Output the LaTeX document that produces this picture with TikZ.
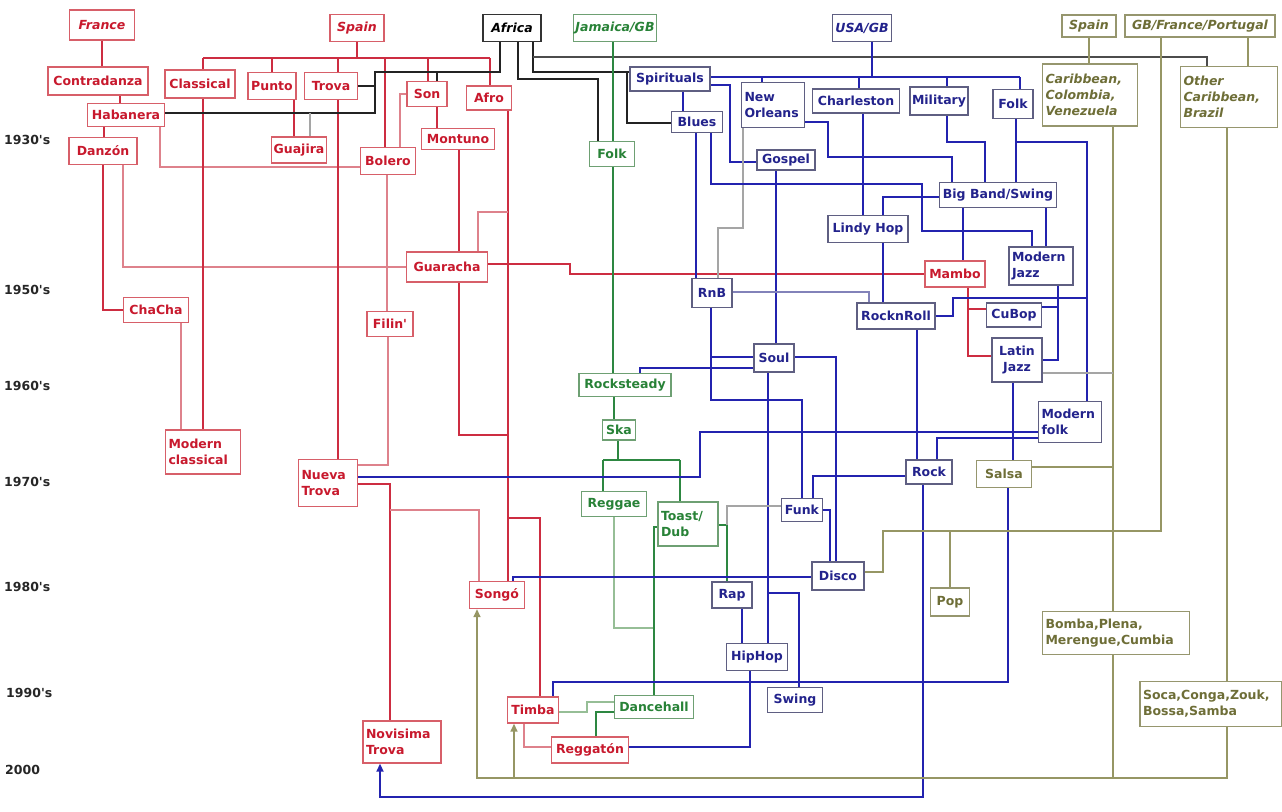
\documentclass[tikz,border=0pt]{standalone}
\usepackage{fontspec}
\setmainfont{DejaVu Sans}[Ligatures=TeXOff]
\usetikzlibrary{arrows.meta,backgrounds}
\definecolor{rtext}{RGB}{200,25,45}
\definecolor{rborder}{RGB}{215,95,105}
\definecolor{rline}{RGB}{205,45,65}
\definecolor{rthin}{RGB}{222,130,140}
\definecolor{btext}{RGB}{35,35,140}
\definecolor{bborder}{RGB}{95,95,130}
\definecolor{bline}{RGB}{35,35,175}
\definecolor{bthin}{RGB}{130,130,185}
\definecolor{gtext}{RGB}{40,130,55}
\definecolor{gborder}{RGB}{110,160,115}
\definecolor{gline}{RGB}{45,135,65}
\definecolor{gthin}{RGB}{150,190,150}
\definecolor{otext}{RGB}{110,110,55}
\definecolor{oborder}{RGB}{150,150,110}
\definecolor{oline}{RGB}{150,150,100}
\definecolor{kline}{RGB}{35,35,35}
\definecolor{gyline}{RGB}{165,165,165}
\begin{document}
\begin{tikzpicture}[x=1pt,y=-1pt,
  box/.style={draw, fill=white, line width=1.4pt, inner sep=2pt, align=center,
    font=\bfseries\fontsize{12.5}{16}\selectfont},
  hdr/.style={font=\bfseries\itshape\fontsize{12.5}{16}\selectfont},
  lft/.style={align=left, inner sep=3pt},
  rbox/.style={box, draw=rborder, text=rtext},
  bbox/.style={box, draw=bborder, text=btext},
  gbox/.style={box, draw=gborder, text=gtext},
  obox/.style={box, draw=oborder, text=otext},
  kbox/.style={box, draw=black!80, text=black},
  rt/.style={draw=rline, line width=2.4pt},
  rn/.style={draw=rthin, line width=1.5pt},
  kt/.style={draw=kline, line width=2.1pt},
  kn/.style={draw=black!70, line width=1.7pt},
  bt/.style={draw=bline, line width=2.1pt},
  bn/.style={draw=bthin, line width=1.4pt},
  gt/.style={draw=gline, line width=2pt},
  gn/.style={draw=gthin, line width=1.5pt},
  ot/.style={draw=oline, line width=1.6pt},
  gy/.style={draw=gyline, line width=1.4pt},
  dec/.style={anchor=west, inner sep=0pt, text=black!85, font=\bfseries\fontsize{12.5}{14}\selectfont},
  tip/.style={-{Triangle[length=8pt,width=7pt]}}
]
\path[use as bounding box] (0,0) rectangle (1282,811);

% decade labels
\node[dec] (d30) at (4,140) {1930's};
\node[dec] (d50) at (4,290) {1950's};
\node[dec] (d60) at (4,386) {1960's};
\node[dec] (d70) at (4,482) {1970's};
\node[dec] (d80) at (4,587) {1980's};
\node[dec] (d90) at (6,693) {1990's};
\node[dec] (d00) at (5,770) {2000};

% red nodes
\node[rbox,hdr,minimum width=65,minimum height=30] (france) at (102,25) {France};
\node[rbox,hdr,minimum width=54,minimum height=27] (spainR) at (357,28) {Spain};
\node[rbox,minimum width=100,minimum height=28] (contra) at (98,81) {Contradanza};
\node[rbox,minimum width=70,minimum height=28] (classical) at (200,84) {Classical};
\node[rbox,minimum width=48,minimum height=27] (punto) at (272,86) {Punto};
\node[rbox,minimum width=53,minimum height=27] (trova) at (331,86) {Trova};
\node[rbox,minimum width=40,minimum height=25] (son) at (427,94) {Son};
\node[rbox,minimum width=45,minimum height=24] (afro) at (489,98) {Afro};
\node[rbox,minimum width=77,minimum height=23] (habanera) at (126,115) {Habanera};
\node[rbox,minimum width=68,minimum height=27] (danzon) at (103,151) {Danzón};
\node[rbox,minimum width=54,minimum height=26] (guajira) at (299,150) {Guajira};
\node[rbox,minimum width=73,minimum height=21] (montuno) at (458,139) {Montuno};
\node[rbox,minimum width=55,minimum height=27] (bolero) at (388,161) {Bolero};
\node[rbox,minimum width=81,minimum height=30] (guaracha) at (447,267) {Guaracha};
\node[rbox,minimum width=60,minimum height=26] (mambo) at (955,274) {Mambo};
\node[rbox,minimum width=65,minimum height=25] (chacha) at (156,310) {ChaCha};
\node[rbox,minimum width=46,minimum height=25] (filin) at (390,324) {Filin'};
\node[rbox,lft,text width=69,minimum height=44] (modclass) at (203,452) {Modern\\classical};
\node[rbox,lft,text width=53,minimum height=47] (nueva) at (328,483) {Nueva\\Trova};
\node[rbox,minimum width=55,minimum height=27] (songo) at (497,595) {Songó};
\node[rbox,minimum width=51,minimum height=26] (timba) at (533,710) {Timba};
\node[rbox,minimum width=77,minimum height=26] (reggaeton) at (590,750) {Reggatón};
\node[rbox,lft,text width=72,minimum height=42] (novisima) at (402,742) {Novisima\\Trova};

% black
\node[kbox,hdr,minimum width=58,minimum height=27] (africa) at (512,28) {Africa};

% green nodes
\node[gbox,hdr,minimum width=68,minimum height=27] (jamaica) at (615,28) {Jamaica/GB};
\node[gbox,minimum width=45,minimum height=25] (folkG) at (612,154) {Folk};
\node[gbox,minimum width=92,minimum height=23] (rocksteady) at (625,385) {Rocksteady};
\node[gbox,minimum width=33,minimum height=20] (ska) at (619,430) {Ska};
\node[gbox,minimum width=65,minimum height=25] (reggae) at (614,504) {Reggae};
\node[gbox,lft,text width=54,minimum height=44] (toast) at (688,524) {Toast/\\Dub};
\node[gbox,minimum width=79,minimum height=23] (dancehall) at (654,707) {Dancehall};

% blue nodes
\node[bbox,hdr,minimum width=59,minimum height=27] (usa) at (862,28) {USA/GB};
\node[bbox,minimum width=80,minimum height=24] (spirituals) at (670,79) {Spirituals};
\node[bbox,minimum width=51,minimum height=21] (blues) at (697,122) {Blues};
\node[bbox,lft,text width=57,minimum height=45] (neworleans) at (773,105) {New\\Orleans};
\node[bbox,minimum width=87,minimum height=24] (charleston) at (856,101) {Charleston};
\node[bbox,minimum width=58,minimum height=28] (military) at (939,101) {Military};
\node[bbox,minimum width=40,minimum height=29] (folkB) at (1013,104) {Folk};
\node[bbox,minimum width=58,minimum height=20] (gospel) at (786,160) {Gospel};
\node[bbox,minimum width=80,minimum height=27] (lindy) at (868,229) {Lindy Hop};
\node[bbox,minimum width=117,minimum height=25,inner sep=1pt] (bigband) at (998,195) {Big Band/Swing};
\node[bbox,lft,text width=58,minimum height=38] (modjazz) at (1041,266) {Modern\\Jazz};
\node[bbox,minimum width=40,minimum height=29] (rnb) at (712,293) {RnB};
\node[bbox,minimum width=78,minimum height=26] (rocknroll) at (896,316) {RocknRoll};
\node[bbox,minimum width=55,minimum height=24] (cubop) at (1014,315) {CuBop};
\node[bbox,text width=46,minimum height=44] (latinjazz) at (1017,360) {Latin\\Jazz};
\node[bbox,minimum width=40,minimum height=28] (soul) at (774,358) {Soul};
\node[bbox,lft,text width=57,minimum height=41] (modfolk) at (1070,422) {Modern\\folk};
\node[bbox,minimum width=46,minimum height=24] (rock) at (929,472) {Rock};
\node[bbox,minimum width=41,minimum height=23] (funk) at (802,510) {Funk};
\node[bbox,minimum width=52,minimum height=28] (disco) at (838,576) {Disco};
\node[bbox,minimum width=40,minimum height=26] (rap) at (732,595) {Rap};
\node[bbox,minimum width=61,minimum height=27] (hiphop) at (757,657) {HipHop};
\node[bbox,minimum width=55,minimum height=25] (swing) at (795,700) {Swing};

% olive nodes
\node[obox,hdr,minimum width=54,minimum height=22] (spainO) at (1089,26) {Spain};
\node[obox,hdr,minimum width=150,minimum height=22] (gbfp) at (1200,26) {GB/France/Portugal};
\node[obox,hdr,lft,text width=89,minimum height=62] (carib) at (1090,95) {Caribbean,\\Colombia,\\Venezuela};
\node[obox,hdr,lft,text width=91,minimum height=61] (othercarib) at (1229,97) {Other\\Caribbean,\\Brazil};
\node[obox,minimum width=55,minimum height=27] (salsa) at (1004,474) {Salsa};
\node[obox,minimum width=39,minimum height=28] (pop) at (950,602) {Pop};
\node[obox,lft,text width=141,minimum height=43] (bomba) at (1116,633) {Bomba,Plena,\\Merengue,Cumbia};
\node[obox,lft,text width=136,minimum height=45] (soca) at (1211,704) {Soca,Conga,Zouk,\\Bossa,Samba};

\begin{scope}[on background layer]
\fill[white] (0,0) rectangle (1282,811);
% ---- red
\draw[rt] (france.south) -- (france.south |- contra.north);
\draw[rt] (contra.south -| 120,0) -- (habanera.north -| 120,0);
\draw[rt] (habanera.south -| 104,0) -- (danzon.north -| 104,0);
\draw[rt] (danzon.south -| 103,0) |- (chacha.west);
\draw[rn] (danzon.south -| 123,0) |- (guaracha.west);
\draw[rn] (habanera.south -| 160,0) -- (160,167) -- (bolero.west |- 0,167);
\draw[rt] (spainR.south) -- (357,58);
\draw[rt] (203,58) -- (490,58);
\draw[rt] (203,58) -- (classical.north -| 203,0);
\draw[rt] (272,58) -- (punto.north -| 272,0);
\draw[rt] (338,58) -- (trova.north -| 338,0);
\draw[rt] (385,58) -- (bolero.north -| 385,0);
\draw[rt] (428,58) -- (son.north -| 428,0);
\draw[rt] (490,58) -- (afro.north -| 490,0);
\draw[rt] (classical.south -| 203,0) -- (modclass.north -| 203,0);
\draw[rn] (chacha.south -| 181,0) -- (modclass.north -| 181,0);
\draw[rt] (punto.south -| 294,0) -- (guajira.north -| 294,0);
\draw[rt] (trova.south -| 338,0) -- (nueva.north -| 338,0);
\draw[rn] (bolero.south -| 387,0) -- (filin.north -| 387,0);
\draw[rn] (filin.south -| 388,0) |- (nueva.east |- 0,465);
\draw[rt] (son.south -| 437,0) -- (montuno.north -| 437,0);
\draw[rn] (son.west) -| (bolero.north -| 400,0);
\draw[rt] (montuno.south -| 459,0) -- (guaracha.north -| 459,0);
\draw[rt] (guaracha.south -| 459,0) -- (459,435) -- (508,435);
\draw[rt] (afro.south -| 508,0) -- (songo.north -| 508,0);
\draw[rn] (508,212) -- (478,212) -- (guaracha.north -| 478,0);
\draw[rt] (508,518) -- (540,518) -- (timba.north -| 540,0);
\draw[rt] (guaracha.east |- 0,264) -- (570,264) -- (570,274) -- (mambo.west);
\draw[rt] (mambo.south -| 968,0) |- (latinjazz.west |- 0,356);
\draw[rt] (968,309) -- (cubop.west |- 0,309);
\draw[rt] (nueva.east |- 0,484) -- (390,484) -- (novisima.north -| 390,0);
\draw[rn] (390,510) -- (479,510) -- (songo.north -| 479,0);
\draw[rn] (timba.south -| 524,0) |- (reggaeton.west |- 0,747);
% ---- black
\draw[kt] (africa.south -| 500,0) -- (500,72) -- (375,72) -- (375,113) -- (habanera.east |- 0,113);
\draw[kt] (437,72) -- (son.north -| 437,0);
\draw[kt] (trova.east) -- (375,86);
\draw[gy] (310,113) -- (guajira.north -| 310,0);
\draw[kt] (africa.south -| 518,0) -- (518,79) -- (598,79) -- (folkG.north -| 598,0);
\draw[kt] (africa.south -| 533,0) -- (533,72) -- (spirituals.west |- 0,72);
\draw[kt] (627,72) -- (627,123) -- (blues.west |- 0,123);
\draw[kn] (533,57) -- (1207,57) -- (othercarib.north -| 1207,0);
% ---- green
\draw[gt] (jamaica.south -| 613,0) -- (folkG.north -| 613,0);
\draw[gt] (folkG.south -| 613,0) -- (rocksteady.north -| 613,0);
\draw[gt] (rocksteady.south -| 614,0) -- (ska.north -| 614,0);
\draw[gt] (ska.south -| 618,0) -- (618,460);
\draw[gt] (603,460) -- (680,460);
\draw[gt] (603,460) -- (reggae.north -| 603,0);
\draw[gt] (680,460) -- (toast.north -| 680,0);
\draw[gn] (reggae.south -| 614,0) -- (614,628) -- (654,628);
\draw[gt] (toast.west |- 0,527) -- (654,527) -- (dancehall.north -| 654,0);
\draw[gt] (toast.east |- 0,525) -- (727,525) -- (rap.north -| 727,0);
\draw[gn] (dancehall.west |- 0,702) -- (587,702) -- (587,712) -- (timba.east |- 0,712);
\draw[gt] (dancehall.west |- 0,712) -- (596,712) -- (reggaeton.north -| 596,0);
% ---- blue
\draw[bt] (usa.south -| 872,0) -- (872,77);
\draw[bt] (spirituals.east |- 0,77) -- (1020,77);
\draw[bt] (762,77) -- (neworleans.north -| 762,0);
\draw[bt] (859,77) -- (charleston.north -| 859,0);
\draw[bt] (947,77) -- (military.north -| 947,0);
\draw[bt] (1020,77) -- (folkB.north -| 1020,0);
\draw[bt] (spirituals.south -| 683,0) -- (blues.north -| 683,0);
\draw[bt] (spirituals.east |- 0,85) -- (730,85) -- (730,162) -- (gospel.west |- 0,162);
\draw[gy] (neworleans.south -| 743,0) -- (743,228) -- (718,228) -- (rnb.north -| 718,0);
\draw[bt] (neworleans.east |- 0,122) -- (828,122) -- (828,157) -- (952,157) -- (bigband.north -| 952,0);
\draw[bt] (blues.south -| 696,0) -- (rnb.north -| 696,0);
\draw[bt] (blues.south -| 711,0) -- (711,184) -- (922,184) -- (922,231) -- (1032,231) -- (modjazz.north -| 1032,0);
\draw[bt] (bigband.west |- 0,197) -- (883,197) -- (lindy.north -| 883,0);
\draw[bt] (bigband.south -| 963,0) -- (mambo.north -| 963,0);
\draw[bt] (bigband.south -| 1046,0) -- (modjazz.north -| 1046,0);
\draw[bt] (military.south -| 947,0) -- (947,142) -- (985,142) -- (bigband.north -| 985,0);
\draw[bt] (folkB.south -| 1016,0) -- (bigband.north -| 1016,0);
\draw[bt] (1016,142) -- (1087,142) -- (modfolk.north -| 1087,0);
\draw[bt] (charleston.south -| 863,0) -- (lindy.north -| 863,0);
\draw[bt] (gospel.south -| 776,0) -- (soul.north -| 776,0);
\draw[bt] (lindy.south -| 883,0) -- (rocknroll.north -| 883,0);
\draw[bn] (rnb.east |- 0,292) -- (869,292) -- (rocknroll.north -| 869,0);
\draw[bt] (rocknroll.east) -- (953,316) -- (953,298) -- (1087,298);
\draw[bt] (modjazz.south -| 1058,0) -- (1058,360) -- (latinjazz.east);
\draw[bt] (cubop.east |- 0,307) -- (1058,307);
\draw[bt] (rnb.south -| 711,0) -- (711,400) -- (802,400) -- (funk.north -| 802,0);
\draw[bt] (711,357) -- (soul.west |- 0,357);
\draw[bt] (soul.east |- 0,357) -- (836,357) -- (disco.north -| 836,0);
\draw[bt] (funk.east) -- (830,510) -- (disco.north -| 830,0);
\draw[bt] (soul.south -| 768,0) -- (hiphop.north -| 768,0);
\draw[bt] (768,593) -- (799,593) -- (swing.north -| 799,0);
\draw[bt] (rock.west |- 0,476) -- (813,476) -- (funk.north -| 813,0);
\draw[bt] (disco.west |- 0,577) -- (513,577) -- (songo.north -| 513,0);
\draw[bt] (rap.south -| 742,0) -- (hiphop.north -| 742,0);
\draw[bt] (rocknroll.south -| 917,0) -- (rock.north -| 917,0);
\draw[bt] (soul.west |- 0,368) -- (640,368) -- (rocksteady.north -| 640,0);
\draw[bt] (nueva.east |- 0,477) -- (700,477) -- (700,432) -- (modfolk.west |- 0,432);
\draw[bt] (rock.north -| 937,0) |- (modfolk.west |- 0,438);
\draw[bt,tip] (rock.south -| 923,0) -- (923,797) -- (380,797) -- (novisima.south -| 380,0);
\draw[bt] (salsa.south -| 1008,0) -- (1008,682) -- (553,682) -- (timba.north -| 553,0);
\draw[bt] (latinjazz.south -| 1013,0) -- (salsa.north -| 1013,0);
\draw[bt] (hiphop.south -| 750,0) |- (reggaeton.east |- 0,747);
\draw[gy] (funk.west |- 0,506) -- (727,506) -- (727,525);
% ---- olive
\draw[ot] (spainO.south) -- (carib.north -| spainO.south);
\draw[ot] (gbfp.south -| 1248,0) -- (othercarib.north -| 1248,0);
\draw[ot] (carib.south -| 1113,0) -- (1113,778);
\draw[ot,tip] (othercarib.south -| 1227,0) -- (1227,778) -- (477,778) -- (songo.south -| 477,0);
\draw[ot,tip] (514,778) -- (timba.south -| 514,0);
\draw[ot] (gbfp.south -| 1161,0) -- (1161,531) -- (883,531) -- (883,572) -- (disco.east |- 0,572);
\draw[ot] (950,531) -- (pop.north);
\draw[ot] (salsa.east |- 0,467) -- (1113,467);
\draw[gy] (latinjazz.east |- 0,373) -- (1113,373);
\end{scope}
\end{tikzpicture}
\end{document}
